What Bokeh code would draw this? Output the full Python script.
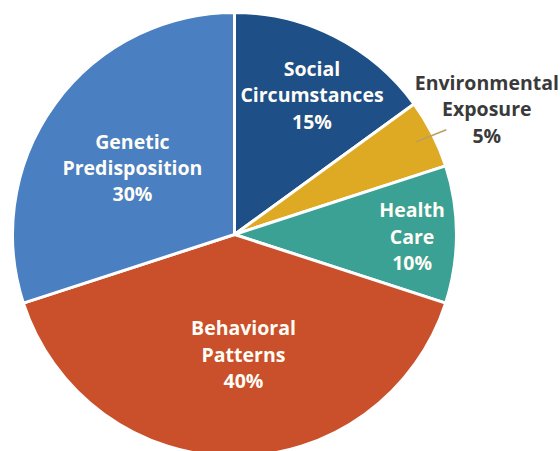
import math
from bokeh.plotting import figure
from bokeh.models import ColumnDataSource, Range1d
from bokeh.core.properties import value
from bokeh.embed import file_html
from bokeh.resources import INLINE

# Determinants of health: share of each factor (percent)
categories = ["Social\nCircumstances", "Environmental\nExposure", "Health\nCare",
              "Behavioral\nPatterns", "Genetic\nPredisposition"]
shares = [15, 5, 10, 40, 30]
colors = ["#1E4F86", "#DEAA24", "#3AA194", "#C9502B", "#4A7FC1"]

# Layout (pixel space, y pointing up)
W, H = 560, 451
CX, CY, R = 234, 451 - 234, 222
# label placement per slice: (fraction of radius, angle in degrees)
label_polar = [(0.72, 61.0), (1.27, 26.5), (0.80, -0.6), (0.54, -85.7), (0.55, 146.7)]
label_colors = ["#FFFDF6", "#3A3A3A", "#FFFDF6", "#FFFDF6", "#FFFDF6"]

total = float(sum(shares))
starts, ends = [], []
a = math.pi / 2
for s in shares:
    sweep = s / total * 2 * math.pi
    ends.append(a)
    starts.append(a - sweep)
    a -= sweep

src = ColumnDataSource(dict(start=starts, end=ends, color=colors))

p = figure(width=W, height=H, output_backend="svg", toolbar_location=None,
           x_range=Range1d(0, W), y_range=Range1d(0, H), min_border=0)
p.axis.visible = False
p.grid.visible = False
p.outline_line_color = None
p.background_fill_color = "white"
p.border_fill_color = "white"

p.wedge(x=CX, y=CY, radius=R, start_angle="start", end_angle="end",
        fill_color="color", line_color="white", line_width=3, source=src)

# leader line for the small outside label
mid_env = (starts[1] + ends[1]) / 2
p.line(x=[CX + R * 0.92 * math.cos(mid_env), CX + R * 1.0 * math.cos(mid_env) + 14],
       y=[CY + R * 0.92 * math.sin(mid_env), CY + R * 1.0 * math.sin(mid_env) + 4],
       line_color="#B8A060", line_width=1.5)

lx, ly, txt = [], [], []
for (frac, ang), cat, s in zip(label_polar, categories, shares):
    t = math.radians(ang)
    lx.append(CX + frac * R * math.cos(t))
    ly.append(CY + frac * R * math.sin(t))
    txt.append(f"{cat}\n{s}%")

lsrc = ColumnDataSource(dict(x=lx, y=ly, text=txt, color=label_colors))
p.text(x="x", y="y", text="text", source=lsrc, text_color="color",
       text_font=value("Open Sans"), text_font_style="bold", text_font_size="19.5px",
       text_align="center", text_baseline="middle", text_line_height=0.98)

open("out.html", "w").write(file_html(p, INLINE))
